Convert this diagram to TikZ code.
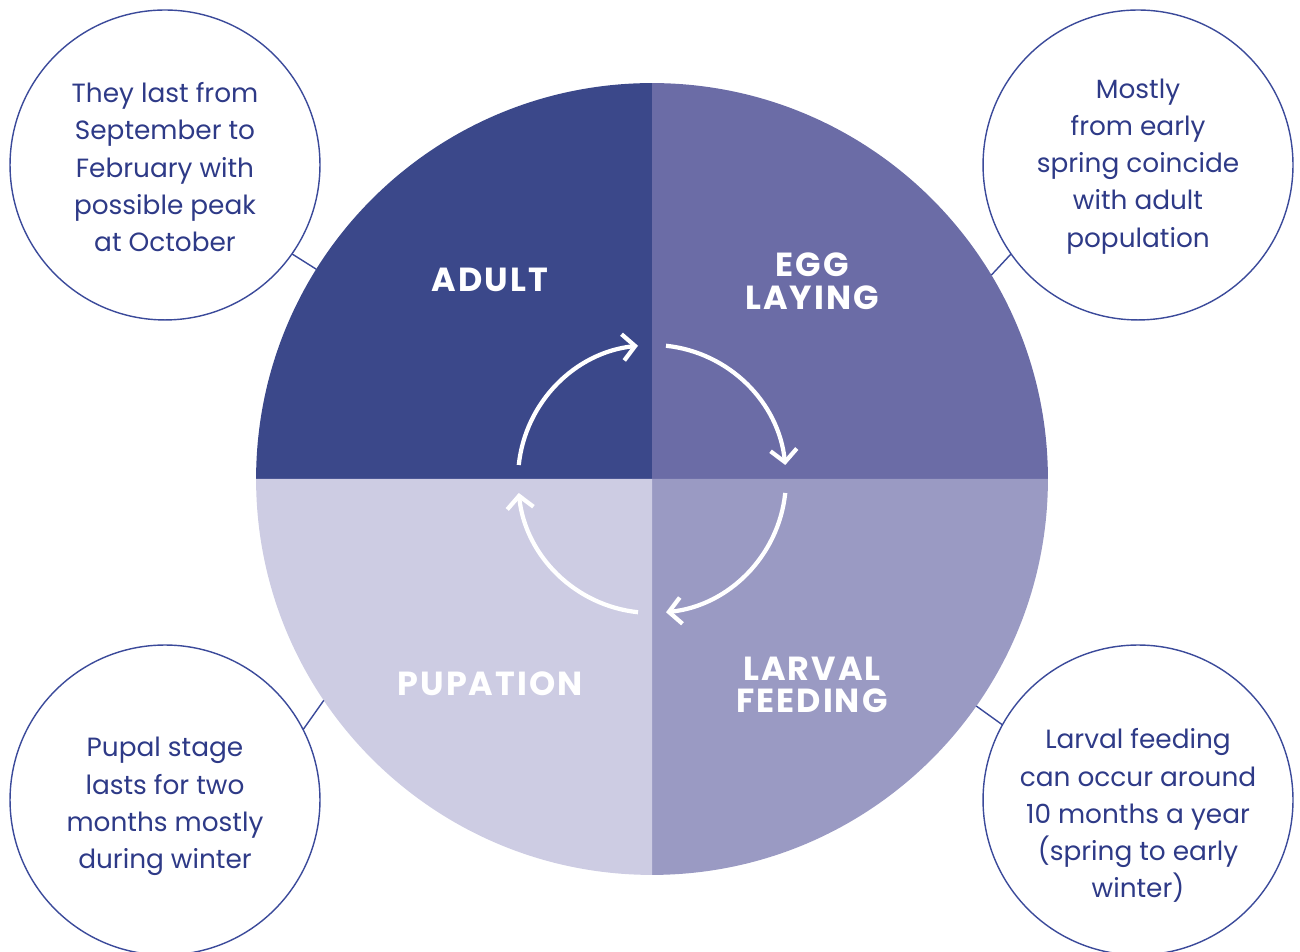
\documentclass[tikz,border=0pt]{standalone}
\usepackage{fontspec}
\setmainfont{Poppins}
\newfontfamily\stagefont[LetterSpace=6]{Poppins}
\usetikzlibrary{arrows.meta}

\definecolor{adultcol}{HTML}{3B488A}
\definecolor{eggcol}{HTML}{6B6CA6}
\definecolor{larvacol}{HTML}{9A9AC3}
\definecolor{pupacol}{HTML}{CDCCE3}
\definecolor{inkcol}{HTML}{2E3A87}
\definecolor{rimcol}{HTML}{3B4A9A}

\begin{document}
\begin{tikzpicture}[
		x=0.02cm, y=0.02cm,
		stage/.style={
			text=white,
			align=center,
			font=\stagefont\fontsize{19}{18.5}\selectfont\bfseries
		},
		note/.style={
			circle,
			draw=rimcol,
			line width=0.8pt,
			minimum size=6.2cm,
			inner sep=0pt,
			outer sep=0pt
		},
		notetext/.style={
			align=center,
			text=inkcol,
			font=\fontsize{15}{21.2}\selectfont
		},
		link/.style={
			draw=rimcol,
			line width=0.8pt
		},
		cyc/.style={
			draw=white,
			line width=2.4pt,
			-{Straight Barb[length=7pt,width=15pt,line width=2.4pt]}
		}
		]
		
		\useasboundingbox (0,0) rectangle (1300,952);
		
		% Wheel
		\node[circle, minimum size=15.84cm, inner sep=0pt, outer sep=0pt] (wheel) at (652,473) {};
		\fill[adultcol] (wheel.center) -- (wheel.west) arc[start angle=180, end angle=90, radius=7.92cm] -- cycle;
		\fill[eggcol] (wheel.center) -- (wheel.north) arc[start angle=90, end angle=0, radius=7.92cm] -- cycle;
		\fill[larvacol] (wheel.center) -- (wheel.east) arc[start angle=0, end angle=-90, radius=7.92cm] -- cycle;
		\fill[pupacol] (wheel.center) -- (wheel.south) arc[start angle=-90, end angle=-180, radius=7.92cm] -- cycle;
		
		% Stage names
		\node[stage] (adult) at (490,672) {ADULT};
		\node[stage] (egg) at (812,671) {EGG\\LAYING};
		\node[stage] (larva) at (812,267) {LARVAL\\FEEDING};
		\node[stage] (pupa) at (490,268) {PUPATION};
		
		% Cycle arrows
		\draw[cyc] ([shift={(174:2.68cm)}]wheel.center) arc[start angle=174, end angle=96, radius=2.68cm];
		\draw[cyc] ([shift={(84:2.68cm)}]wheel.center) arc[start angle=84, end angle=6, radius=2.68cm];
		\draw[cyc] ([shift={(-6:2.68cm)}]wheel.center) arc[start angle=-6, end angle=-84, radius=2.68cm];
		\draw[cyc] ([shift={(-96:2.68cm)}]wheel.center) arc[start angle=-96, end angle=-174, radius=2.68cm];
		
		% Notes
		\node[note] (noteadult) at (165,787) {};
		\node[note] (noteegg) at (1138,787) {};
		\node[note] (notepupa) at (165,152) {};
		\node[note] (notelarva) at (1138,152) {};
		
		\node[notetext] (adulttxt) at ([yshift=-1.3pt]noteadult.center) {They last from\\September to\\February with\\possible peak\\at October};
		\node[notetext] (eggtxt) at ([yshift=-0.7pt]noteegg.center) {Mostly\\from early\\spring coincide\\with adult\\population};
		\node[notetext] (pupatxt) at ([yshift=-3.8pt]notepupa.center) {Pupal stage\\lasts for two\\months mostly\\during winter};
		\node[notetext] (larvatxt) at ([yshift=-9pt]notelarva.center) {Larval feeding\\can occur around\\10 months a year\\(spring to early\\winter)};
		
		% Links from notes to wheel
		\draw[link] (noteadult.-35.5) -- (wheel.148.7);
		\draw[link] (noteegg.215.6) -- (wheel.31.4);
		\draw[link] (notepupa.27.9) -- (wheel.214.9);
		\draw[link] (notelarva.151.9) -- (wheel.-35.1);
		
	\end{tikzpicture}
\end{document}
